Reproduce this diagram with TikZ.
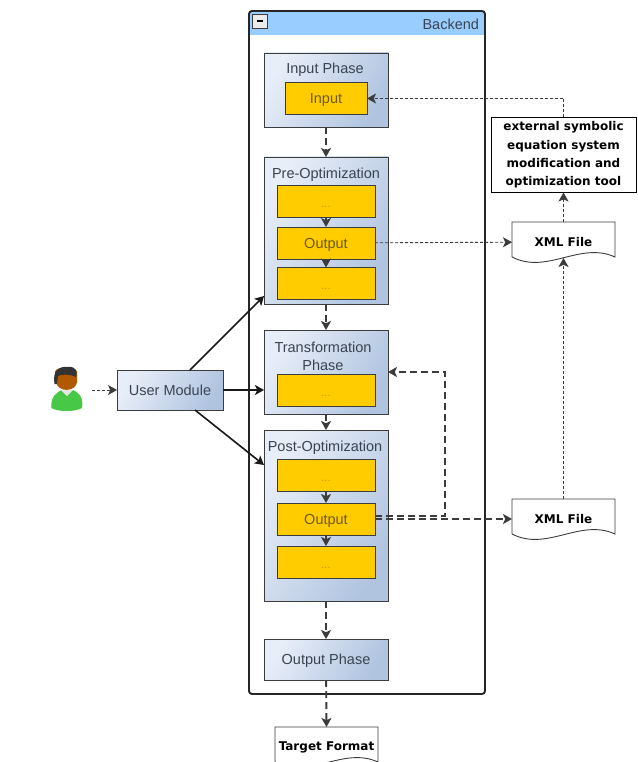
\documentclass[tikz,border=0pt]{standalone}
\usepackage{fontspec}
\setmainfont{Liberation Sans}
\newfontfamily\docfont{DejaVu Sans}
\usetikzlibrary{arrows.meta,calc}
\definecolor{headblue}{HTML}{99CCFF}
\definecolor{stepyellow}{HTML}{FFCC00}
\definecolor{labelgrey}{HTML}{3A4450}
\definecolor{edgegrey}{HTML}{3C3C3C}
\definecolor{phaselight}{HTML}{E8EEF8}
\definecolor{phasedark}{HTML}{B0C4E0}
\definecolor{steptext}{HTML}{6E5A10}
\definecolor{dotstext}{HTML}{C88A10}
\tikzset{
	>={Stealth[inset=2.2pt,length=9pt,width=10pt]},
	phasebox/.style={draw=edgegrey, line width=0.9pt, inner sep=0, outer sep=0, minimum width=124pt, left color=phaselight, right color=phasedark, shading angle=60},
	stepbox/.style={draw=edgegrey, line width=0.9pt, fill=stepyellow, text=steptext, inner sep=0, outer sep=0, minimum width=98pt, minimum height=32pt, text height=10pt, text depth=0pt, font=\fontsize{14.5}{14.5}\selectfont},
	dotsbox/.style={stepbox, text=dotstext, text height=12pt, font=\fontsize{11}{11}\selectfont},
	phaselabel/.style={text=labelgrey, align=center, font=\fontsize{14.5}{18}\selectfont},
	docbox/.style={inner sep=0, outer sep=0, minimum width=103pt, minimum height=40pt, font=\docfont\bfseries\fontsize{12}{12}\selectfont},
	thinflow/.style={->, densely dashed, line width=0.9pt, edgegrey},
	thickflow/.style={->, dash pattern=on 7pt off 4pt, line width=1.9pt, edgegrey},
	usedge/.style={->, line width=1.6pt, black!90},
	inneredge/.style={->, line width=1.2pt, edgegrey},
}
\def\docoutline(#1){\draw[edgegrey, line width=0.9pt, fill=white] ($(#1.south west)+(0,-5)$) -- (#1.north west) -- (#1.north east) -- ($(#1.south east)+(0,-5)$) .. controls ($(#1.south east)+(-35,-21)$) and ($(#1.south west)+(35,13)$) .. ($(#1.south west)+(0,-5)$);}
\begin{document}
\begin{tikzpicture}[x=1pt, y=-1pt]
	\clip (0, 0) rectangle (637, 762);
	\fill[white] (0, 0) rectangle (637, 762);

	%%%%% backend frame %%%%%
	\begin{scope}
		\clip[rounded corners=3pt] (249, 11) rectangle (485, 694);
		\fill[headblue] (249, 11) rectangle (485, 35);
	\end{scope}
	\draw[black!85, line width=1.9pt, rounded corners=3pt] (249, 11) rectangle (485, 694);
	\draw[edgegrey, fill=black!8, line width=0.7pt] (252.5, 14) rectangle (267, 28);
	\draw[black, line width=1.4pt] (256.5, 21) -- (263, 21);
	\node[phaselabel, anchor=east] (backendlabel) at (482.5, 24) {Backend};

	%%%%% phases %%%%%
	\node[phasebox, minimum height=74pt] (inputphase) at (326, 90) {};
	\node[phasebox, minimum height=147pt] (preopt) at (326, 230.5) {};
	\node[phasebox, minimum height=84pt] (transform) at (326, 372) {};
	\node[phasebox, minimum height=171pt] (postopt) at (326, 515.5) {};
	\node[phasebox, minimum height=41pt, text=labelgrey, text height=10pt, text depth=0pt, font=\fontsize{14.5}{14.5}\selectfont] (outputphase) at (326, 659.5) {Output Phase};

	\node[phaselabel] (inputlabel) at (325, 69.5) {Input Phase};
	\node[phaselabel] (prelabel) at (326, 174.5) {Pre-Optimization};
	\node[phaselabel] (translabel) at (323, 356) {Transformation\\Phase};
	\node[phaselabel] (postlabel) at (325, 448) {Post-Optimization};

	%%%%% steps %%%%%
	\node[stepbox, minimum width=82pt] (input) at (326, 98.5) {Input};
	\foreach \name/\ypos in {pretop/201.5, prebot/283.5, transtep/390.5, posttop/475.5, postbot/562}{
		\node[dotsbox] (\name) at (326, \ypos) {...};
	}
	\node[stepbox] (preout) at (326, 243) {Output};
	\node[stepbox] (postout) at (326, 519) {Output};

	\draw[inneredge] (pretop) -- (preout);
	\draw[inneredge] (preout) -- (prebot);
	\draw[inneredge] (posttop) -- (postout);
	\draw[inneredge] (postout) -- (postbot);

	%%%%% documents %%%%%
	\node[docbox] (xmlone) at (563.5, 242) {};
	\docoutline(xmlone)
	\node[docbox] at (xmlone) (xmlonetext) {XML File};
	\node[docbox] (xmltwo) at (563.5, 519) {};
	\docoutline(xmltwo)
	\node[docbox] at (xmltwo) (xmltwotext) {XML File};
	\node[docbox] (target) at (326.5, 747) {};
	\docoutline(target)
	\node[docbox] at (target) (targettext) {Target Format};

	\node[draw=black, line width=0.9pt, fill=white, align=center, inner sep=0, outer sep=0, minimum width=145pt, minimum height=75pt, font=\docfont\bfseries\fontsize{12}{18.4}\selectfont] (exttool) at (563.5, 155) {external symbolic\\equation system\\modification and\\optimization tool};

	%%%%% user %%%%%
	\node[phasebox, minimum width=106pt, minimum height=40pt, text=labelgrey, text height=10pt, text depth=0pt, font=\fontsize{14.5}{14.5}\selectfont] (usermodule) at (170, 390) {User Module};
	\coordinate (person) at (92, 390);
	\fill[green!70!black!72!white] (51.5, 408) .. controls (50, 397) and (57, 392) .. (62, 390) -- (73, 390) .. controls (78, 392) and (84, 397) .. (82, 408) .. controls (76, 412) and (57, 412) .. (51.5, 408);
	\fill[black!10] (61, 390) -- (73, 390) -- (67, 396) -- cycle;
	\fill[orange!70!black] (55, 372) .. controls (55, 366) and (77, 366) .. (77, 372) -- (77, 382) .. controls (76, 392) and (58, 393) .. (56, 382) -- cycle;
	\fill[black!80] (54.5, 384) .. controls (52, 370) and (60, 366) .. (68, 367) .. controls (76, 366) and (78, 372) .. (76, 377) .. controls (70, 374) and (62, 374) .. (58, 376) -- (57, 384) -- cycle;

	%%%%% connectors %%%%%
	\coordinate (xmlwave) at (563.5, 258);
	\coordinate (usertop) at (190, 370);
	\coordinate (userbot) at (195, 410);
	\coordinate (preleft) at (264, 296);
	\coordinate (postleft) at (264, 465);
	\coordinate (outoff) at (375, 516);
	\coordinate (backcorner) at (445, 516);
	\coordinate (backtop) at (445, 372);
	\coordinate (inputturn) at (563.5, 98.5);

	\draw[thinflow] (person) -- (usermodule);
	\draw[usedge] (usertop) -- (preleft);
	\draw[usedge, line width=1.9pt] (usermodule.east) -- (transform.west |- usermodule.east);
	\draw[usedge] (userbot) -- (postleft);

	\draw[thickflow] (inputphase) -- (preopt);
	\draw[thickflow] (preopt) -- (transform);
	\draw[thickflow] (transform) -- (postopt);
	\draw[thickflow] (postopt) -- (outputphase);
	\draw[thickflow] (outputphase) -- (target.north);

	\draw[thinflow] (exttool.north) -- (inputturn) -- (input);
	\draw[thinflow] (preout) -- (xmlone);
	\draw[thinflow] (xmlone) -- (exttool);
	\draw[thinflow] (xmltwo) -- (xmlwave);
	\draw[thickflow] (postout) -- (xmltwo);
	\draw[thickflow] (outoff) -- (backcorner) -- (backtop) -- (transform.east |- backtop);
\end{tikzpicture}
\end{document}
